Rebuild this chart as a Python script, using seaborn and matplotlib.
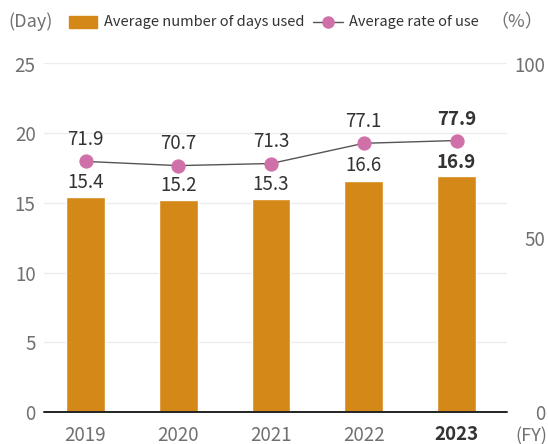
import matplotlib
matplotlib.use("Agg")
import matplotlib.pyplot as plt
import seaborn as sns
import pandas as pd
from matplotlib.patches import Rectangle
from matplotlib.lines import Line2D

years = ["2019", "2020", "2021", "2022", "2023"]
days_used = [15.4, 15.2, 15.3, 16.6, 16.9]
rate_of_use = [71.9, 70.7, 71.3, 77.1, 77.9]
left_ticks = [0, 5, 10, 15, 20, 25]
right_ticks = [0, 50, 100]

BAR = "#d48817"
PINK = "#d070a8"
LINE = "#555555"
TXT = "#333333"
TICK = "#707070"

sns.set_theme(style="white")
plt.rcParams["font.family"] = ["Noto Sans CJK JP", "DejaVu Sans"]

df = pd.DataFrame({"year": years, "days": days_used, "rate": rate_of_use})

fig = plt.figure(figsize=(5.48, 4.44), dpi=100)
W, H = 548, 444
AX_L, AX_R, AX_B, AX_T = 44, 507, 412, 63.5
ax = fig.add_axes([AX_L / W, 1 - AX_B / H, (AX_R - AX_L) / W, (AX_B - AX_T) / H])

sns.barplot(data=df, x="year", y="days", color=BAR, width=0.42,
            saturation=1, ax=ax, zorder=2)
ax.set_ylim(0, 25)
ax.set_yticks(left_ticks)
ax.yaxis.grid(True, color="#ececec", linewidth=1, zorder=0)
ax.set_axisbelow(True)
for s in ax.spines.values():
    s.set_visible(False)
ax.tick_params(axis="y", length=0, pad=6, labelsize=13.5, labelcolor=TICK)
ax.tick_params(axis="x", length=0, pad=9, labelsize=13.5, labelcolor=TICK)
ax.set_xlabel("")
ax.set_ylabel("")

ax2 = ax.twinx()
sns.pointplot(data=df, x="year", y="rate", ax=ax2, color=LINE,
              markers="o", linestyles="-", linewidth=1,
              markersize=9.5, markerfacecolor=PINK, markeredgecolor=PINK,
              errorbar=None)
ax2.set_ylim(0, 100)
ax2.set_yticks(right_ticks)
for s in ax2.spines.values():
    s.set_visible(False)
# right-hand labels are right-aligned near the figure edge
ax2.tick_params(axis="y", length=0, pad=27.5, labelsize=13.5, labelcolor=TICK)
for lab in ax2.get_yticklabels():
    lab.set_horizontalalignment("right")
ax2.set_ylabel("")
ax2.set_xlabel("")
ax2.grid(False)

step = 92.75
x0 = -(85.5 - AX_L) / step
x1 = 4 + (AX_R - 456.5) / step
ax.set_xlim(x0, x1)
ax2.set_xlim(x0, x1)

# x tick labels: latest year emphasised
ax.set_xticks(range(len(years)))
ax.set_xticklabels(years)
for lab in ax.get_xticklabels():
    if lab.get_text() == years[-1]:
        lab.set_fontweight("bold")
        lab.set_color(TXT)

# baseline
ax.axhline(0, color="#222222", linewidth=1.4, clip_on=False, zorder=5)

# value labels
for i, (d, r) in enumerate(zip(days_used, rate_of_use)):
    bold = i == len(years) - 1
    ax.annotate(f"{d:.1f}", (i, d), xytext=(0, 3), textcoords="offset points",
                ha="center", va="bottom", fontsize=13.5, color=TXT,
                fontweight="bold" if bold else "normal")
    ax2.annotate(f"{r:.1f}", (i, r), xytext=(0, 8), textcoords="offset points",
                 ha="center", va="bottom", fontsize=13.5, color=TXT,
                 fontweight="bold" if bold else "normal")

# legend row
ly = 1 - 22 / H
fig.text(8 / W, ly, "(Day)", ha="left", va="center", fontsize=13, color=TICK)
fig.patches.append(Rectangle((69 / W, 1 - 28 / H), 28 / W, 12 / H,
                             transform=fig.transFigure, color=BAR))
fig.text(104 / W, ly, "Average number of days used", ha="left", va="center",
         fontsize=10.5, color=TXT)
fig.lines.append(Line2D([313 / W, 343 / W], [ly, ly], transform=fig.transFigure,
                        color=LINE, linewidth=1))
fig.lines.append(Line2D([328 / W], [ly], transform=fig.transFigure, marker="o",
                        markersize=8, color=PINK, linestyle="none"))
fig.text(349 / W, ly, "Average rate of use", ha="left", va="center",
         fontsize=10.5, color=TXT)
fig.text(543 / W, ly, "（%）", ha="right", va="center", fontsize=13, color=TICK)

fig.text(547 / W, 1 - 436 / H, "(FY)", ha="right", va="center",
         fontsize=13, color=TICK)

fig.savefig("out.png", dpi=100)
